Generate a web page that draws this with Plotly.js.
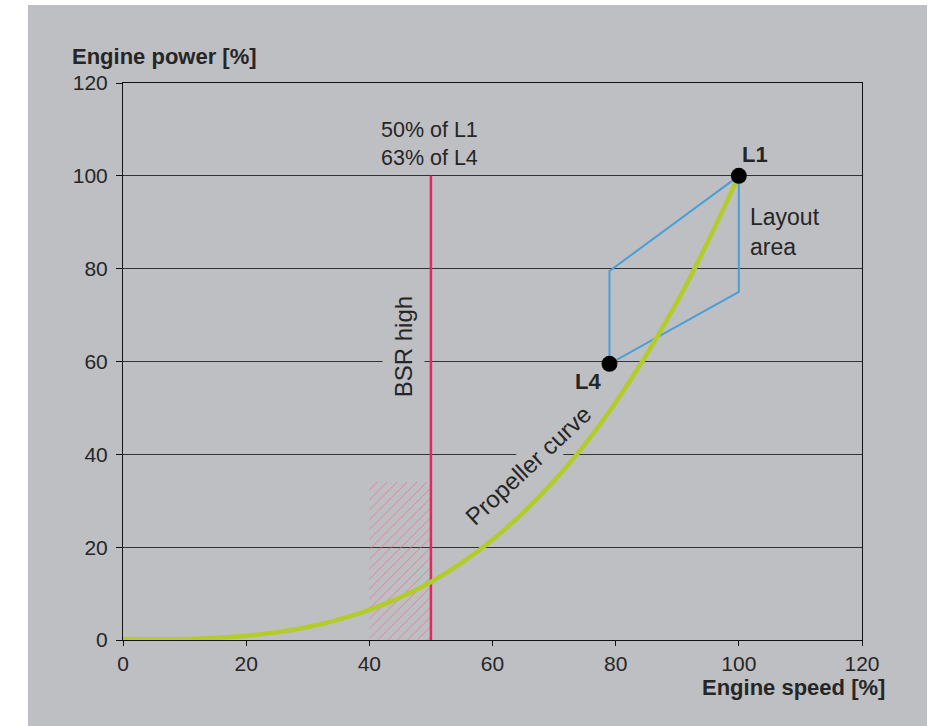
<!DOCTYPE html>
<html>
<head>
<meta charset="utf-8">
<script src="https://cdn.plot.ly/plotly-3.0.1.min.js"></script>
<style>html,body{margin:0;padding:0;background:#fff;}#chart{width:941px;height:726px;}</style>
</head>
<body>
<div id="chart"></div>
<script>
// Propeller curve
const propSpeed = [0, 10, 20, 30, 40, 50, 60, 70, 79, 90, 100];
const propPower = [0.2, 0.2, 0.9, 2.8, 6.5, 12.5, 21.6, 34.3, 49.3, 72.9, 100];

// Layout area corners: L1, L3, L4, L2, back to L1
const layoutSpeed = [100, 100, 79, 79, 100];
const layoutPower = [100, 75, 59.5, 79.5, 100];

// Named points
const pointNames = ["L1", "L4"];
const pointSpeed = [100, 79];
const pointPower = [100, 59.5];

// BSR high limit line and hatched zone
const bsrSpeed = [50, 50];
const bsrPower = [0, 100];
const hatchSpeedLow = 40;
const hatchSpeedHigh = 50;
const hatchPower = 34;

const xTicks = [0, 20, 40, 60, 80, 100, 120];
const yTicks = [0, 20, 40, 60, 80, 100, 120];

const BG = '#bebfc3';
const FONT = 'Liberation Sans, Arial, sans-serif';
const TXT = '#262626';

const traces = [
  {
    type: 'bar',
    x: [(hatchSpeedLow + hatchSpeedHigh) / 2],
    y: [hatchPower],
    width: [hatchSpeedHigh - hatchSpeedLow],
    marker: {
      color: 'rgba(0,0,0,0)',
      line: {width: 0},
      pattern: {shape: '/', fgcolor: '#e67592', bgcolor: 'rgba(0,0,0,0)', size: 7, solidity: 0.12}
    },
    hoverinfo: 'skip', showlegend: false
  },
  {
    type: 'scatter', mode: 'lines',
    x: bsrSpeed, y: bsrPower,
    line: {color: '#e8265a', width: 2.5},
    hoverinfo: 'skip', showlegend: false
  },
  {
    type: 'scatter', mode: 'lines',
    x: layoutSpeed, y: layoutPower,
    line: {color: '#4a9fd6', width: 2},
    hoverinfo: 'skip', showlegend: false
  },
  {
    type: 'scatter', mode: 'lines',
    x: propSpeed, y: propPower,
    line: {color: '#b3cc2a', width: 4.5, shape: 'spline', smoothing: 1},
    hoverinfo: 'skip', showlegend: false
  },
  {
    type: 'scatter', mode: 'markers',
    x: pointSpeed, y: pointPower, text: pointNames,
    marker: {color: '#000', size: 16},
    hoverinfo: 'skip', showlegend: false
  }
];

const f = (s) => ({family: FONT, size: s, color: TXT});
const fb = (s) => ({family: FONT, size: s, color: TXT, weight: 'bold'});

const layout = {
  width: 941, height: 726,
  margin: {l: 123, r: 79, t: 83, b: 86},
  paper_bgcolor: '#ffffff',
  plot_bgcolor: 'rgba(0,0,0,0)',
  showlegend: false,
  bargap: 0,
  xaxis: {
    range: [0, 120], tickvals: xTicks, ticktext: xTicks.map(String),
    showgrid: false, zeroline: false,
    showline: true, linecolor: '#111', linewidth: 1, mirror: true,
    ticks: 'outside', ticklen: 5, tickcolor: '#111', tickwidth: 1,
    tickfont: f(21),
    fixedrange: true
  },
  yaxis: {
    range: [0, 120], tickvals: yTicks, ticktext: yTicks.map(String),
    showgrid: true, gridcolor: '#333', gridwidth: 1, zeroline: false,
    showline: true, linecolor: '#111', linewidth: 1, mirror: true,
    ticks: 'outside', ticklen: 6, tickcolor: '#111', tickwidth: 1,
    ticklabelstandoff: 4,
    tickfont: f(21),
    fixedrange: true
  },
  shapes: [
    {type: 'rect', xref: 'paper', yref: 'paper', layer: 'below',
     x0: -0.1286, x1: 1.088, y0: -0.16, y1: 1.140,
     fillcolor: BG, line: {width: 0}}
  ],
  annotations: [
    {xref: 'paper', yref: 'paper', x: -0.0717, y: 1.047, xanchor: 'left', yanchor: 'middle',
     text: 'Engine power [%]', showarrow: false, font: fb(22)},
    {xref: 'paper', yref: 'paper', x: 1.0338, y: -0.086, xanchor: 'right', yanchor: 'middle',
     text: 'Engine speed [%]', showarrow: false, font: fb(22)},
    {x: 49.7, y: 106.9, text: '50% of L1<br>63% of L4', showarrow: false, font: f(21.5),
     xanchor: 'center', yanchor: 'middle', align: 'center'},
    {x: 45.5, y: 63.1, text: 'BSR high', textangle: -90, showarrow: false, font: f(24),
     bgcolor: BG, borderpad: 7, xanchor: 'center', yanchor: 'middle'},
    {x: 65.8, y: 37.5, text: 'Propeller curve', textangle: -43, showarrow: false, font: f(24),
     bgcolor: BG, borderpad: 2, xanchor: 'center', yanchor: 'middle'},
    {x: 102.6, y: 104.5, text: 'L1', showarrow: false, font: fb(22), xanchor: 'center', yanchor: 'middle'},
    {x: 75.5, y: 55.8, text: 'L4', showarrow: false, font: fb(22), xanchor: 'center', yanchor: 'middle'},
    {x: 101.5, y: 87.9, text: 'Layout<br>area', showarrow: false, font: f(23),
     xanchor: 'left', yanchor: 'middle', align: 'left'}
  ]
};

Plotly.newPlot('chart', traces, layout, {displayModeBar: false, staticPlot: true});
</script>
</body>
</html>
